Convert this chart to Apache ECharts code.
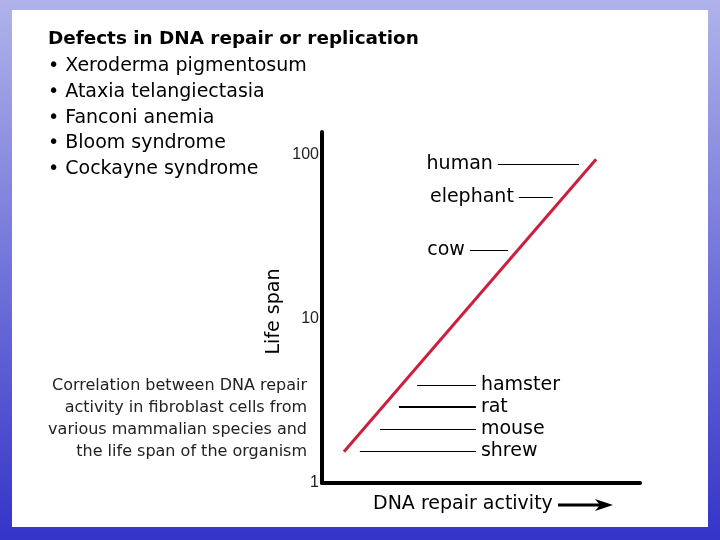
<!DOCTYPE html>
<html>
<head>
<meta charset="utf-8">
<script src="https://cdn.jsdelivr.net/npm/echarts@6/dist/echarts.min.js"></script>
<style>
  html, body { margin: 0; padding: 0; }
  body { width: 720px; height: 540px; background: linear-gradient(#b0b3ea, #3434c8); position: relative; overflow: hidden; }
  #panel { position: absolute; left: 12px; top: 10px; width: 696px; height: 517px; background: #fff; }
  #chart { position: absolute; left: 0; top: 0; width: 720px; height: 540px; }
</style>
</head>
<body>
<div id="panel"></div>
<div id="chart"></div>
<script>
// slide text
const heading = "Defects in DNA repair or replication";
const defects = ["Xeroderma pigmentosum", "Ataxia telangiectasia", "Fanconi anemia", "Bloom syndrome", "Cockayne syndrome"];
const caption = ["Correlation between DNA repair", "activity in fibroblast cells from", "various mammalian species and", "the life span of the organism"];

// trend line (x: repair activity, arbitrary 0-100; y: life span, log)
const trendX = [6.9, 86.2];
const trendY = [1.55, 94];

// species annotations
const species = ["human", "elephant", "cow", "hamster", "rat", "mouse", "shrew"];
const lifespan = [88, 55.5, 26.4, 3.96, 2.9, 2.13, 1.57];
const leaderFrom = [55.3, 61.9, 46.5, 29.9, 24.2, 18.2, 11.9];
const leaderTo = [80.8, 72.6, 58.5, 48.4, 48.4, 48.4, 48.4];
const labelLeft = [true, true, true, false, false, false, false];

const yTicks = [1, 10, 100];

const FONT = '"DejaVu Sans"';
const chart = echarts.init(document.getElementById("chart"), null, { renderer: "canvas" });

const leaders = species.map((name, i) => [
  {
    coord: [leaderFrom[i], lifespan[i]],
    lineStyle: { color: "#000", width: name === "rat" ? 2 : 1.2, type: "solid" },
    label: {
      show: true,
      formatter: name,
      position: labelLeft[i] ? "start" : "end",
      distance: 5,
      color: "#000",
      fontSize: 19,
      fontFamily: "DejaVu Sans"
    }
  },
  { coord: [leaderTo[i], lifespan[i]] }
]);

const texts = [];
texts.push({
  type: "text", x: 48, y: 39,
  style: { text: heading, font: "bold 18.4px " + FONT, fill: "#000", textVerticalAlign: "middle" }
});
defects.forEach((d, i) => {
  texts.push({
    type: "text", x: 48, y: 66 + i * 25.8,
    style: { text: "\u2022 " + d, font: "19px " + FONT, fill: "#000", textVerticalAlign: "middle" }
  });
});
caption.forEach((c, i) => {
  texts.push({
    type: "text", x: 307, y: 386 + i * 22,
    style: { text: c, font: "16px " + FONT, fill: "#222", textAlign: "right", textVerticalAlign: "middle" }
  });
});
texts.push({
  type: "text", x: 373, y: 504,
  style: { text: "DNA repair activity", font: "19px " + FONT, fill: "#000", textVerticalAlign: "middle" }
});
texts.push({
  type: "line", shape: { x1: 558, y1: 505, x2: 600, y2: 505 },
  style: { stroke: "#000", lineWidth: 3 }
});
texts.push({
  type: "polygon", shape: { points: [[595, 499], [613, 505], [595, 511], [600, 505]] },
  style: { fill: "#000" }
});

chart.setOption({
  animation: false,
  backgroundColor: "transparent",
  textStyle: { fontFamily: "DejaVu Sans" },
  grid: { left: 322, right: 80, top: 132, bottom: 57, containLabel: false },
  xAxis: {
    type: "value", min: 0, max: 100,
    axisLine: { show: true, lineStyle: { color: "#000", width: 4 } },
    axisTick: { show: false }, axisLabel: { show: false }, splitLine: { show: false }
  },
  yAxis: {
    type: "log", logBase: 10, min: 1, max: 138,
    name: "Life span", nameLocation: "middle", nameRotate: 90, nameGap: 38,
    nameTextStyle: { fontSize: 19, color: "#000", fontFamily: "DejaVu Sans", padding: [0, 8, 0, 0] },
    axisLine: { show: true, lineStyle: { color: "#000", width: 4 } },
    axisTick: { show: false }, splitLine: { show: false },
    axisLabel: {
      color: "#222", fontSize: 16, margin: 3, fontFamily: "Liberation Sans",
      formatter: v => (yTicks.some(t => Math.abs(t - v) < 1e-6) ? String(v) : "")
    }
  },
  series: [{
    type: "line",
    data: trendX.map((x, i) => [x, trendY[i]]),
    symbol: "none",
    lineStyle: { color: "#cc1f3d", width: 3 },
    markLine: {
      silent: true,
      symbol: ["none", "none"],
      data: leaders
    }
  }],
  graphic: texts
});
</script>
</body>
</html>
